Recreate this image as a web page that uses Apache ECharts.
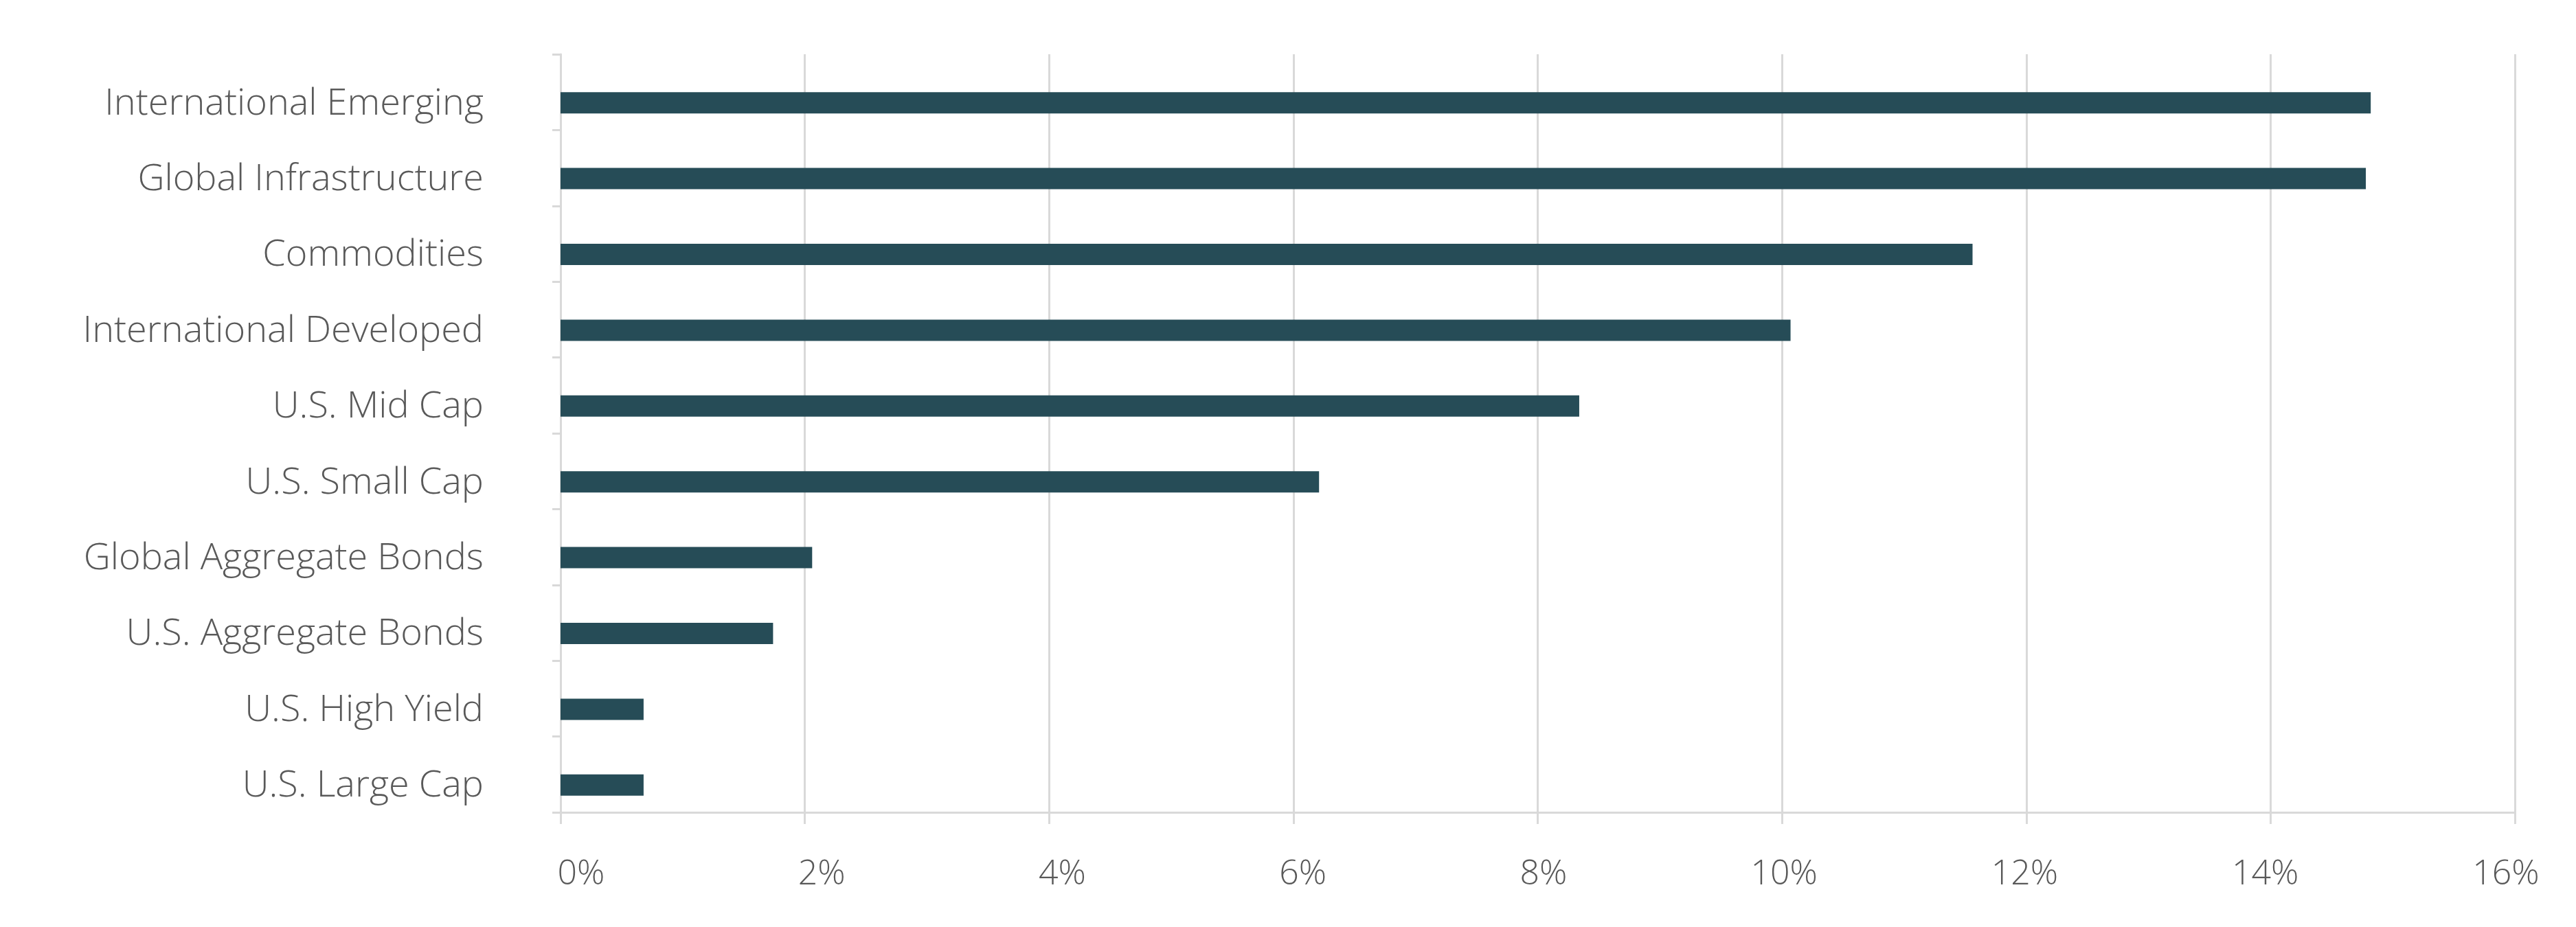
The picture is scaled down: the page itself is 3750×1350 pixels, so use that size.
<!DOCTYPE html>
<html lang="en">
<head>
    <meta charset="UTF-8">
    <title>Asset class returns</title>
    <script src="https://cdn.jsdelivr.net/npm/echarts@6/dist/echarts.min.js"></script>
    <style>
        html, body { margin: 0; padding: 0; background: #ffffff; }
        #chart { width: 3750px; height: 1350px; }
    </style>
</head>
<body>
<div id="chart"></div>
<script type="text/javascript">
    // top to bottom, as in the picture
    var categories = [
        'International Emerging',
        'Global Infrastructure',
        'Commodities',
        'International Developed',
        'U.S. Mid Cap',
        'U.S. Small Cap',
        'Global Aggregate Bonds',
        'U.S. Aggregate Bonds',
        'U.S. High Yield',
        'U.S. Large Cap'
    ];
    var returns = [14.82, 14.78, 11.56, 10.07, 8.34, 6.21, 2.06, 1.74, 0.68, 0.68];
    var tickValues = [0, 2, 4, 6, 8, 10, 12, 14, 16];

    var gray = '#d9d9d9';
    var textColor = '#595959';
    var font = 'Open Sans';

    var chart = echarts.init(document.getElementById('chart'));

    var option = {
        animation: false,
        backgroundColor: '#ffffff',
        grid: [
            {left: 816, right: 89, top: 79, bottom: 167},
            // label row only, slightly narrower like the original
            {left: 846, right: 102, top: 79, bottom: 167}
        ],
        xAxis: [
            {
                type: 'value',
                gridIndex: 0,
                min: tickValues[0],
                max: tickValues[tickValues.length - 1],
                interval: 2,
                axisLine: {show: true, lineStyle: {color: gray, width: 3}},
                axisTick: {show: true, length: 17, lineStyle: {color: gray, width: 3}},
                splitLine: {show: true, lineStyle: {color: gray, width: 3}},
                axisLabel: {show: false}
            },
            {
                type: 'value',
                gridIndex: 1,
                min: tickValues[0],
                max: tickValues[tickValues.length - 1],
                interval: 2,
                axisLine: {show: false},
                axisTick: {show: false},
                splitLine: {show: false},
                axisLabel: {
                    show: true,
                    margin: 66,
                    formatter: '{value}%',
                    color: textColor,
                    fontFamily: font,
                    fontWeight: 300,
                    fontSize: 50
                }
            }
        ],
        yAxis: [
            {
                type: 'category',
                gridIndex: 0,
                data: categories,
                inverse: true,
                axisLine: {show: true, lineStyle: {color: gray, width: 3}},
                axisTick: {show: true, length: 12, lineStyle: {color: gray, width: 3}},
                splitLine: {show: false},
                axisLabel: {
                    margin: 112,
                    color: textColor,
                    fontFamily: font,
                    fontWeight: 300,
                    fontSize: 54,
                    lineHeight: 34,
                    verticalAlign: 'top'
                }
            },
            {
                type: 'value',
                gridIndex: 1,
                show: false
            }
        ],
        series: [
            {
                // empty slot, pushes the real bar below the category centre
                type: 'bar',
                xAxisIndex: 0,
                yAxisIndex: 0,
                data: categories.map(function () { return '-'; }),
                barWidth: 31,
                barGap: '0%',
                silent: true
            },
            {
                name: 'Return',
                type: 'bar',
                xAxisIndex: 0,
                yAxisIndex: 0,
                data: returns,
                barWidth: 31,
                barGap: '0%',
                itemStyle: {color: '#264c57'}
            }
        ]
    };

    chart.setOption(option);
</script>
</body>
</html>
